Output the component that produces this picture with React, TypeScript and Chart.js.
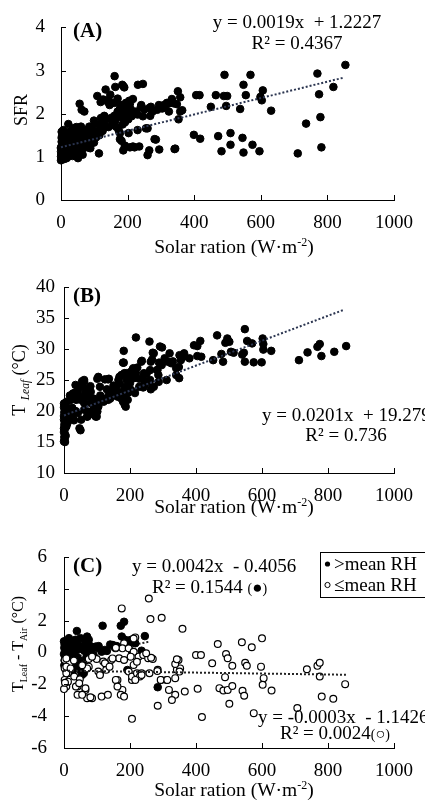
import React, { useEffect, useRef } from 'react';
import { Chart, registerables } from 'chart.js';
Chart.register(...registerables);

const FONT = "'Liberation Serif', 'Times New Roman', serif";

// ---------- data ----------
const X_TICKS = [0, 200, 400, 600, 800, 1000];

// Panel A: SFR vs solar radiation
const A_POINTS: number[][] = [
  [854,3.13],[770,2.93],[818,2.62],[775,2.45],[779,1.92],[736,1.77],[782,1.22],[711,1.08],[631,2.07],[606,2.54],
  [599,2.39],[603,2.31],[596,1.13],[575,1.28],[569,2.9],[548,2.67],[555,2.43],[538,2.11],[545,1.44],[548,1.1],
  [509,1.55],[509,1.28],[491,2.9],[499,2.41],[489,2.41],[496,2.18],[472,1.48],[482,1.13],[465,2.43],[450,2.16],
  [416,2.43],[406,2.43],[418,1.42],[399,1.51],
  [351,2.52],[358,2.38],[338,2.24],[333,2.34],[324,2.24],[358,2.05],[353,1.87],[364,2.08],[348,2.22],[341,1.18],
  [314,2.2],[304,2.12],[324,2.05],[294,2.2],[289,2.09],[270,2.16],[281,1.41],[295,1.17],[265,1.15],[260,1.04],
  [260,1.66],[268,1.95],[265,2.13],[255,1.66],[246,2.69],[231,2.67],[241,2.2],[246,1.94],[230,1.98],[240,2.16],
  [235,1.24],[221,1.22],[216,1.24],[230,1.62],[226,2.05],[216,2.34],[207,2.23],[212,1.94],[202,1.87],[203,1.55],
  [207,1.22],[285,1.4],[343,1.19],[275,2.05],[250,2.1],[220,2.0],[210,2.1],[330,2.28],[318,2.25],[309,2.2],
  [192,1.24],[187,1.15],[177,1.41],[182,1.37],[192,1.26],[190,2.61],[184,2.67],[161,2.87],[163,2.62],[187,2.64],
  [143,2.32],[148,2.44],[134,2.56],[109,2.41],[127,2.33],[141,2.27],[146,2.2],[114,1.08],[119,2.27],[177,2.12],
  [187,2.05],[197,2.09],[173,1.98],[182,1.91],[163,1.84],[192,1.8],[143,1.87],[129,1.8],[109,1.76],[99,1.84],
  [90,1.69],[119,1.66],[143,1.69],[177,1.55],[173,1.62],[109,1.58],[95,1.51],[99,1.33],[155,1.75],[165,1.7],
  [185,1.75],[195,1.95],[170,2.05],[160,1.95],[150,1.9],[135,1.7],[125,1.6],[115,1.5],[105,1.45],[200,2.0],
  [180,2.2],[195,2.25],[205,2.3],[120,1.9],[130,1.95],[160,2.25],[170,2.35],
  [56,2.23],[62,2.09],[70,2.05],[75,1.62],[61,1.62],[46,1.69],[36,1.66],[22,1.76],[26,1.58],[12,1.51],
  [2,1.58],[7,1.62],[2,1.44],[7,1.33],[0,1.22],[0,1.12],[0,1.01],[2,0.94],[17,0.97],[26,1.04],
  [41,1.08],[51,0.97],[41,1.26],[56,1.29],[70,1.37],[80,1.44],[66,1.19],[80,1.22],[26,1.4],[17,1.26],
  [32,1.19],[0,0.92],[2,0.98],[4,1.02],[1,1.06],[6,1.1],[3,1.14],[8,1.18],[0,1.2],[5,1.25],
  [10,1.3],[2,1.35],[7,1.4],[12,1.05],[14,1.15],[16,1.0],[18,1.25],[20,1.35],[22,1.1],[25,1.2],
  [28,1.3],[30,1.05],[33,1.45],[36,1.15],[38,1.35],[42,1.25],[45,1.5],[48,1.4],[52,1.3],[55,1.55],
  [58,1.45],[62,1.35],[65,1.5],[68,1.6],[72,1.45],[75,1.28],[78,1.55],[82,1.38],[85,1.6],[88,1.5],
  [92,1.42],[96,1.62],[100,1.55],[3,1.48],[10,1.42],[15,1.55],[30,1.6],[40,1.55],[50,1.6],[60,1.7],
  [85,1.7],[10,0.95],[20,1.0],[35,1.02],[45,1.15],[55,1.1],[70,1.25],[88,1.2],[65,1.05],[58,1.2],
];
const A_SLOPE = 0.0019;
const A_INTERCEPT = 1.2227;
const A_FIT_END = 850;

// Panel B: leaf temperature vs solar radiation
const B_POINTS: number[][] = [
  [855,30.47],[819,29.55],[780,28.86],[775,30.8],[768,30.35],[738,29.45],[712,28.2],[628,29.7],[604,29.9],[604,30.8],
  [602,31.7],[599,27.85],[575,27.85],[570,30.9],[555,31.3],[548,33.2],[548,27.95],[545,29.4],[540,29.1],[514,29.4],
  [506,29.55],[501,31.16],[495,31.7],[489,31.0],[482,27.95],[477,29.2],[464,32.2],[452,28.2],[416,28.75],[413,31.3],
  [404,30.47],[404,28.86],
  [359,28.65],[364,29.3],[354,28.2],[349,25.3],[340,25.8],[348,27.1],[320,29.3],[315,27.95],[297,30.25],[288,27.8],
  [283,26.6],[286,25.8],[269,29.4],[259,31.2],[263,27.95],[261,26.6],[261,25.0],[263,23.5],[234,27.95],[242,26.1],
  [242,25.0],[240,23.8],[218,31.86],[210,26.9],[202,26.3],[212,25.3],[215,22.9],[200,24.5],[350,29.0],[340,26.9],
  [325,27.7],[296,27.4],[282,26.6],[291,30.4],[272,29.3],[267,28.3],[236,28.1],[228,25.2],[228,23.9],[243,24.2],
  [257,24.7],[272,23.9],[287,24.7],[311,25.0],[203,23.4],[208,26.7],[218,26.1],[198,25.5],[330,28.0],[305,28.5],
  [250,26.0],[222,27.0],[380,28.5],[394,30.6],
  [181,29.7],[181,27.8],[183,26.1],[187,23.9],[187,20.7],[173,22.05],[163,22.3],[168,25.5],[158,23.7],[149,22.85],
  [134,21.8],[124,25.1],[134,25.1],[104,25.5],[109,23.9],[115,21.8],[104,20.7],[99,19.1],[189,26.1],[174,25.8],
  [165,25.0],[136,25.2],[150,24.1],[169,24.4],[184,23.6],[184,22.3],[184,21.0],[179,21.5],[193,21.8],[160,22.8],
  [136,22.8],[145,23.3],[120,21.5],[106,21.3],[101,25.2],[101,19.9],[96,19.1],[179,27.8],[155,22.5],[125,22.0],
  [140,22.0],[170,23.0],[195,23.0],[190,25.0],[110,22.5],[130,23.5],
  [61,24.7],[71,23.6],[52,23.9],[42,23.3],[27,22.8],[37,21.8],[71,22.3],[81,23.1],[57,22.3],[61,21.3],
  [81,21.3],[91,20.7],[61,20.2],[42,19.7],[27,19.1],[52,18.6],[71,19.1],[47,17.2],[12,20.45],[21,21.8],
  [21,19.6],[31,22.9],[41,22.9],[46,23.9],[51,21.8],[70,19.1],[75,19.9],[61,25.0],[35,24.2],[55,24.8],
  [65,23.0],[80,24.0],[90,22.0],[15,19.0],[25,20.5],[35,20.0],[10,18.0],[30,18.5],[50,16.9],[85,19.5],
  [95,21.8],[18,22.5],[8,21.5],
  [0,15.1],[2,15.4],[1,15.8],[3,16.2],[0,16.6],[2,17.0],[4,17.4],[1,17.8],[3,18.2],[0,18.6],
  [2,19.0],[5,19.4],[1,19.8],[3,20.2],[0,20.6],[2,21.0],[4,21.3],[6,20.0],[8,18.5],[7,17.5],
  [5,16.0],[0,19.2],[0,17.2],[0,21.2],[3,15.0],
];
const B_SLOPE = 0.0201;
const B_INTERCEPT = 19.279;
const B_FIT_END = 850;

// Panel C: leaf-air temperature difference, split by relative humidity
const C_HIGH_RH: number[][] = [
  [0,0.7],[2,0.5],[1,0.3],[3,0.1],[0,-0.1],[4,-0.3],[2,-0.5],[1,-0.8],[5,0.6],[6,0.2],
  [8,-0.2],[7,-0.6],[9,0.4],[10,-1.0],[12,0.6],[15,0.3],[14,-0.1],[18,-0.4],[20,0.1],[22,0.5],
  [25,-0.2],[28,0.3],[30,-0.7],[32,0.0],[35,0.8],[39,1.35],[40,-0.3],[36,-1.0],[42,0.5],[45,0.2],
  [48,-0.5],[50,0.9],[52,-1.2],[55,-1.4],[58,0.4],[60,-0.8],[62,0.1],[65,0.7],[68,-0.3],[70,1.0],
  [72,0.3],[75,0.8],[78,-0.1],[80,0.4],[85,0.2],[90,-0.2],[96,0.37],[100,0.3],[105,0.4],[114,0.05],
  [117,1.68],[124,0.16],[130,0.1],[140,0.5],[148,0.47],[160,0.4],[172,1.68],[175,1.0],[182,1.93],[185,0.8],
  [192,-1.1],[196,0.47],[201,0.78],[206,0.06],[216,0.58],[235,0.11],[245,1.03],[284,-2.18],[25,-1.2],[45,-0.9],
  [15,0.9],[60,-1.3],[8,-1.2],
];
const C_LOW_RH: number[][] = [
  [257,3.39],[175,2.77],[262,2.1],[296,2.18],[359,1.49],[600,0.89],[539,0.64],[569,0.33],[466,0.53],[400,-0.16],
  [415,-0.16],[491,-0.09],[496,-0.36],[449,-0.68],[510,-0.83],[549,-0.64],[554,-0.83],[597,-0.89],[736,-1.05],[768,-0.84],
  [775,-0.64],[775,-1.51],[605,-1.61],[602,-2.03],[488,-1.55],[366,-2.45],[405,-2.28],[471,-2.24],[483,-2.39],[496,-2.35],
  [510,-2.1],[541,-2.41],[546,-2.72],[629,-2.39],[501,-3.22],[781,-2.77],[816,-2.91],[852,-1.99],[707,-3.49],[575,-3.81],
  [418,-4.06],[206,-4.17],[284,-3.35],
  [216,0.95],[182,0.58],[156,0.26],[177,0.26],[196,0.26],[226,-0.26],[240,-0.16],[255,-0.36],[269,-0.41],[75,-0.41],
  [99,-0.41],[119,-0.57],[143,-0.47],[167,-0.36],[182,-0.47],[2,-0.47],[17,-0.68],[2,-0.99],[12,-1.3],[2,-1.72],
  [7,-2.14],[75,-0.89],[109,-1.3],[128,-1.09],[196,-1.2],[211,-0.78],
  [31,-1.51],[41,-2.14],[65,-2.35],[41,-2.66],[70,-2.87],[85,-2.87],[114,-2.77],[133,-2.66],[162,-1.72],[177,-2.35],
  [172,-2.66],[182,-2.77],[206,-1.72],[206,-1.51],[221,-1.3],[235,-1.3],[230,-1.51],[259,-1.3],[284,-1.09],[294,-1.72],
  [311,-1.72],[318,-2.35],[337,-1.61],[342,-1.09],[337,-2.66],[347,-0.47],[327,-2.98],[352,-1.0],[350,-1.2],[337,-0.72],
  [342,-0.43],[147,-0.37],[124,-0.68],[138,-0.89],[104,-1.2],[109,-1.41],[85,-0.26],[70,-1.0],[48,-1.68],[7,-1.31],
  [12,-1.83],[36,-2.14],[46,-1.93],[65,-2.25],[55,-2.66],[80,-2.81],[211,0.88],[157,0.3],[211,0.05],[202,-0.26],
  [221,-0.58],[235,-1.41],[216,-1.72],[157,-1.72],[162,-2.14],[264,-0.33],[249,-0.05],[283,-1.16],[293,-1.72],[313,-1.72],
  [7,-0.37],[7,-0.89],[0,-2.3],[3,-1.9],[20,-1.0],[30,-0.5],[55,-0.8],
];
const C_HIGH_SLOPE = 0.0042;
const C_HIGH_INTERCEPT = -0.4056;
const C_HIGH_FIT_END = 260;
const C_LOW_SLOPE = -0.0003;
const C_LOW_INTERCEPT = -1.1426;
const C_LOW_FIT_END = 860;

// ---------- drawing helpers ----------
type Part = { t: string; s: number; i?: boolean; b?: boolean; dy?: number };
type TextItem = { parts: Part[]; x: number; y: number; align: 'left' | 'center'; rot?: boolean };
const fontOf = (p: Part) => `${p.i ? 'italic ' : ''}${p.b ? 'bold ' : ''}${p.s}px ${FONT}`;

function drawRich(ctx: CanvasRenderingContext2D, item: TextItem, offY: number) {
  ctx.save();
  ctx.translate(item.x, item.y - offY);
  if (item.rot) ctx.rotate(-Math.PI / 2);
  ctx.textBaseline = 'alphabetic';
  ctx.textAlign = 'left';
  ctx.fillStyle = '#000';
  let total = 0;
  for (const p of item.parts) { ctx.font = fontOf(p); total += ctx.measureText(p.t).width; }
  let cx = item.align === 'left' ? 0 : -total / 2;
  for (const p of item.parts) {
    ctx.font = fontOf(p);
    ctx.fillText(p.t, cx, p.dy || 0);
    cx += ctx.measureText(p.t).width;
  }
  ctx.restore();
}

const xTitle = (baseline: number): TextItem => ({
  parts: [{ t: 'Solar ration (W·m', s: 19.5 }, { t: '-2', s: 12, dy: -7 }, { t: ')', s: 19.5 }],
  x: 234, y: baseline, align: 'center',
});

type Panel = {
  top: number; height: number;
  area: { left: number; right: number; top: number; bottom: number };
  yMin: number; yMax: number; yStep: number; yPad: number;
  datasets: any[];
  texts: TextItem[];
  legend?: boolean;
};

const pts = (arr: number[][]) => arr.map(([x, y]) => ({ x, y }));
const fit = (m: number, b: number, end: number) => [{ x: 0, y: b }, { x: end, y: m * end + b }];

const filled = (arr: number[][], order: number) => ({
  type: 'scatter', data: pts(arr), pointRadius: 3.8, pointBorderWidth: 1,
  pointBackgroundColor: '#000', pointBorderColor: '#000', clip: false, order,
});
const trend = (m: number, b: number, end: number, color: string) => ({
  type: 'line', data: fit(m, b, end), borderColor: color, borderWidth: 2, borderDash: [2, 2],
  pointRadius: 0, fill: false, clip: false, order: 0,
});

const PANELS: Panel[] = [
  {
    top: 0, height: 258,
    area: { left: 61, right: 404, top: 16, bottom: 200 },
    yMin: 0, yMax: 4, yStep: 1, yPad: 16,
    datasets: [filled(A_POINTS, 2), trend(A_SLOPE, A_INTERCEPT, A_FIT_END, '#2b3550')],
    texts: [
      { parts: [{ t: '(A)', s: 21, b: true }], x: 73, y: 37, align: 'left' },
      { parts: [{ t: 'y = 0.0019x  + 1.2227', s: 19 }], x: 297, y: 28, align: 'center' },
      { parts: [{ t: 'R² = 0.4367', s: 19 }], x: 297, y: 49, align: 'center' },
      { parts: [{ t: 'SFR', s: 18 }], x: 27, y: 110, align: 'center', rot: true },
      xTitle(253),
    ],
  },
  {
    top: 258, height: 262,
    area: { left: 64, right: 405, top: 287, bottom: 473 },
    yMin: 10, yMax: 40, yStep: 5, yPad: 9,
    datasets: [filled(B_POINTS, 2), trend(B_SLOPE, B_INTERCEPT, B_FIT_END, '#2b3550')],
    texts: [
      { parts: [{ t: '(B)', s: 21, b: true }], x: 73, y: 302, align: 'left' },
      { parts: [{ t: 'y = 0.0201x  + 19.279', s: 19 }], x: 262, y: 421, align: 'left' },
      { parts: [{ t: 'R² = 0.736', s: 19 }], x: 346, y: 441, align: 'center' },
      { parts: [{ t: 'T ', s: 18 }, { t: 'Leaf', s: 11.5, i: true, dy: 4 }, { t: ' (°C)', s: 18 }], x: 25, y: 380, align: 'center', rot: true },
      xTitle(513),
    ],
  },
  {
    top: 520, height: 285,
    area: { left: 64, right: 407, top: 557, bottom: 748 },
    yMin: -6, yMax: 6, yStep: 2, yPad: 17,
    datasets: [
      trend(C_LOW_SLOPE, C_LOW_INTERCEPT, C_LOW_FIT_END, '#222'),
      {
        type: 'scatter', data: pts(C_LOW_RH), pointRadius: 3.4, pointBorderWidth: 1.2,
        pointBackgroundColor: '#fff', pointBorderColor: '#000', clip: false, order: 1,
      },
      filled(C_HIGH_RH, 2),
      { ...trend(C_HIGH_SLOPE, C_HIGH_INTERCEPT, C_HIGH_FIT_END, '#222'), order: 3 },
    ],
    texts: [
      { parts: [{ t: '(C)', s: 21, b: true }], x: 73, y: 572, align: 'left' },
      { parts: [{ t: 'y = 0.0042x  - 0.4056', s: 19 }], x: 132, y: 572, align: 'left' },
      { parts: [{ t: 'R² = 0.1544 ', s: 19 }, { t: '(', s: 14 }, { t: '●', s: 17 }, { t: ')', s: 14 }], x: 152, y: 593, align: 'left' },
      { parts: [{ t: 'y = -0.0003x  - 1.1426', s: 19 }], x: 258, y: 723, align: 'left' },
      { parts: [{ t: 'R² = 0.0024', s: 19 }, { t: '(', s: 14 }, { t: '○', s: 16 }, { t: ')', s: 14 }], x: 280, y: 739, align: 'left' },
      { parts: [{ t: 'T', s: 16 }, { t: 'Leaf', s: 10, dy: 3.5 }, { t: ' - T', s: 16 }, { t: 'Air', s: 10, dy: 3.5 }, { t: ' (°C)', s: 16 }], x: 23, y: 644, align: 'center', rot: true },
      xTitle(796),
    ],
    legend: true,
  },
];

function makeConfig(p: Panel): any {
  const relTop = p.area.top - p.top;
  const relBottom = p.area.bottom - p.top;
  const overlay = {
    id: 'overlay',
    afterDraw(chart: any) {
      const ctx: CanvasRenderingContext2D = chart.ctx;
      const xs = chart.scales.x;
      const ys = chart.scales.y;
      const ca = chart.chartArea;
      ctx.save();
      ctx.strokeStyle = '#000';
      ctx.lineWidth = 1;
      ctx.beginPath();
      for (const v of X_TICKS) {
        const px = Math.round(xs.getPixelForValue(v)) + 0.5;
        ctx.moveTo(px, ca.bottom);
        ctx.lineTo(px, ca.bottom - 5);
      }
      for (const t of ys.ticks) {
        const py = Math.round(ys.getPixelForValue(t.value)) + 0.5;
        ctx.moveTo(ca.left, py);
        ctx.lineTo(ca.left + 5, py);
      }
      ctx.stroke();
      ctx.restore();
      for (const t of p.texts) drawRich(ctx, t, p.top);
      if (p.legend) {
        const o = p.top;
        ctx.save();
        ctx.fillStyle = '#fff';
        ctx.fillRect(320.5, 552.5 - o, 120, 45);
        ctx.strokeStyle = '#000';
        ctx.lineWidth = 1;
        ctx.strokeRect(320.5, 552.5 - o, 120, 45);
        ctx.beginPath();
        ctx.arc(327.5, 564 - o, 2.6, 0, Math.PI * 2);
        ctx.fillStyle = '#000';
        ctx.fill();
        ctx.beginPath();
        ctx.arc(327.5, 585 - o, 2.6, 0, Math.PI * 2);
        ctx.stroke();
        ctx.restore();
        drawRich(ctx, { parts: [{ t: '>mean RH', s: 19 }], x: 334, y: 570, align: 'left' }, o);
        drawRich(ctx, { parts: [{ t: '≤mean RH', s: 19 }], x: 334, y: 591, align: 'left' }, o);
      }
    },
  };
  return {
    type: 'scatter',
    data: { datasets: p.datasets },
    options: {
      responsive: false,
      animation: false,
      devicePixelRatio: 1,
      layout: { autoPadding: false, padding: { left: 0, right: 425 - p.area.right, top: relTop, bottom: 0 } },
      plugins: { legend: { display: false }, tooltip: { enabled: false } },
      scales: {
        x: {
          type: 'linear', min: 0, max: 1000,
          ticks: { stepSize: 200, color: '#000', font: { family: FONT, size: 19 }, padding: 12, maxRotation: 0, autoSkip: false, callback: (v: any) => String(v) },
          grid: { display: false, drawTicks: false },
          border: { display: true, color: '#000', width: 1 },
          afterFit: (s: any) => { s.height = p.height - relBottom; },
        },
        y: {
          type: 'linear', min: p.yMin, max: p.yMax,
          ticks: { stepSize: p.yStep, color: '#000', font: { family: FONT, size: 19 }, padding: p.yPad, callback: (v: any) => String(v) },
          grid: { display: false, drawTicks: false },
          border: { display: true, color: '#000', width: 1 },
          afterFit: (s: any) => { s.width = p.area.left; },
        },
      },
    },
    plugins: [overlay],
  };
}

function PanelCanvas({ panel }: { panel: Panel }) {
  const ref = useRef<HTMLCanvasElement | null>(null);
  useEffect(() => {
    if (!ref.current) return;
    const chart = new Chart(ref.current, makeConfig(panel));
    return () => chart.destroy();
  }, [panel]);
  return (
    <canvas
      ref={ref}
      width={425}
      height={panel.height}
      style={{ position: 'absolute', left: 0, top: panel.top, width: 425, height: panel.height }}
    />
  );
}

export default function App() {
  return (
    <div style={{ position: 'absolute', left: 0, top: 0, width: 425, height: 805, background: '#fff', overflow: 'hidden' }}>
      {PANELS.map((p, i) => <PanelCanvas key={i} panel={p} />)}
    </div>
  );
}
